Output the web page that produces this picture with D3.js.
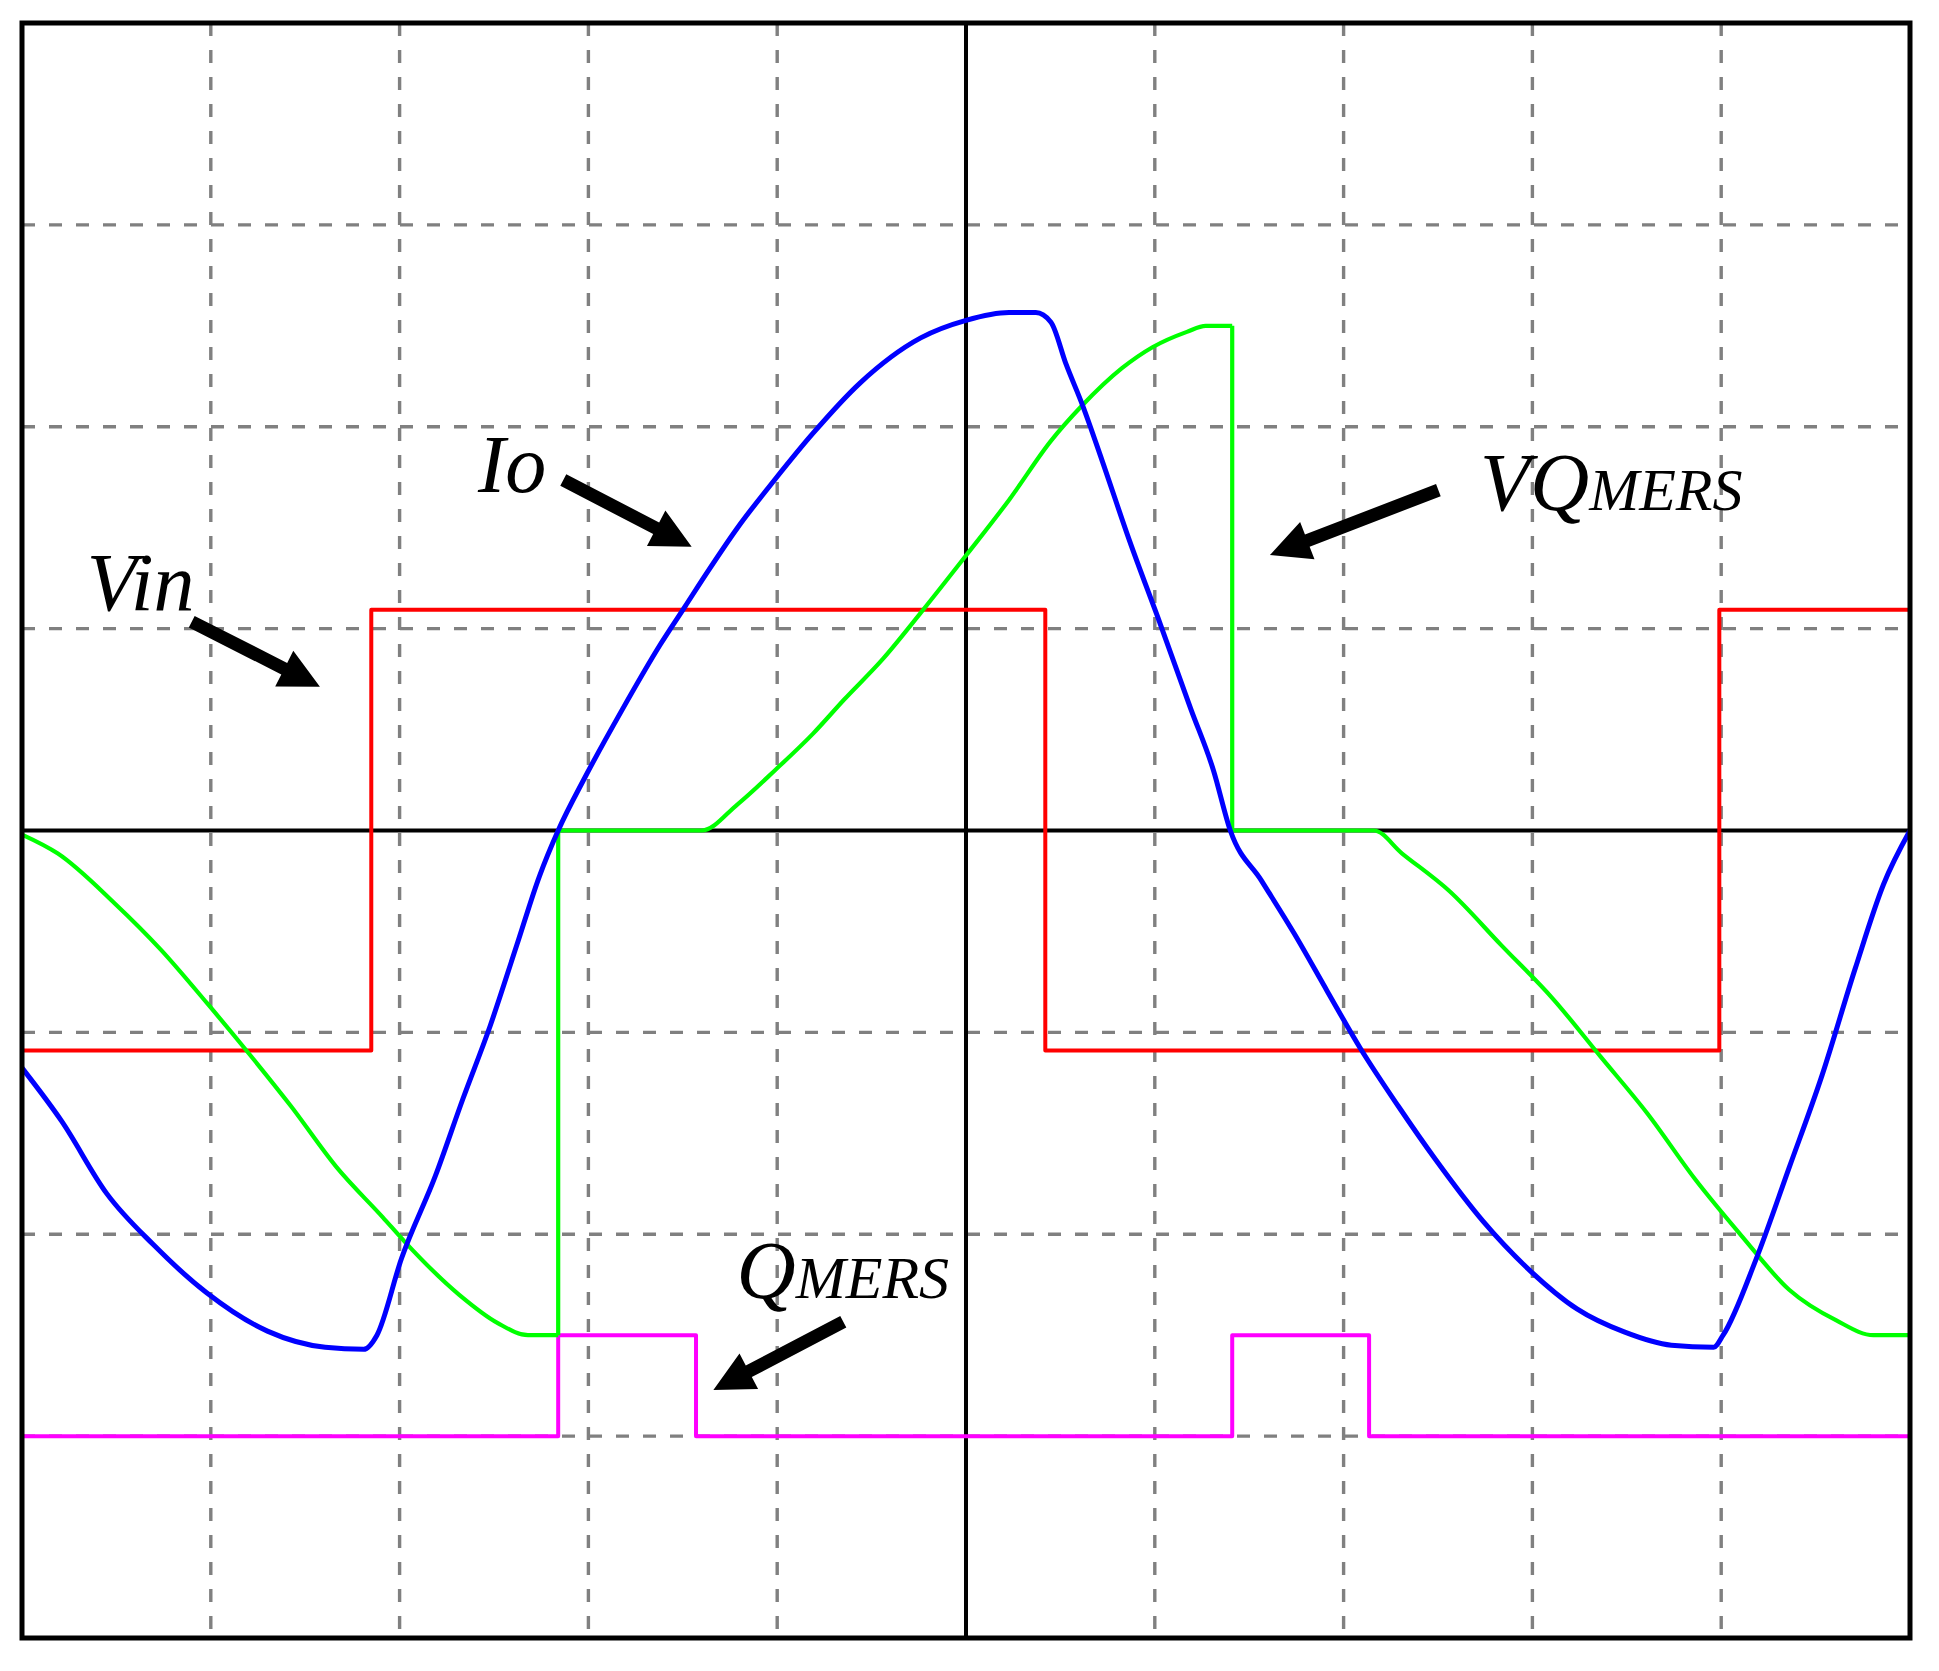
<!DOCTYPE html>
<html>
<head>
<meta charset="utf-8">
<script src="https://d3js.org/d3.v7.min.js"></script>
<style>
  body { margin: 0; background: #fff; }
</style>
</head>
<body>
<div id="chart"></div>
<script>
// scope screen: 10 divisions across, 8 divisions high (centre = 0)
const xDivs = d3.range(0, 11);
const yDivs = d3.range(-4, 5);

// Vin - square wave
const vinPoints = [
  [0, -1.09], [1.85, -1.09], [1.85, 1.093], [5.42, 1.093], [5.42, -1.09],
  [8.99, -1.09], [8.99, 1.093], [10, 1.093]
];

// QMERS - gate pulses
const qPoints = [
  [0, -3], [2.84, -3], [2.84, -2.5], [3.57, -2.5], [3.57, -3], [6.41, -3],
  [6.41, -2.5], [7.135, -2.5], [7.135, -3], [10, -3]
];

// Io - output current
const ioPoints = [
  [0, -1.176], [0.21, -1.44], [0.45, -1.8], [0.694, -2.05], [0.978, -2.29], [1.3, -2.48],
  [1.606, -2.56], [1.81, -2.57], [1.88, -2.5], [2.01, -2.12], [2.19, -1.71], [2.335, -1.33],
  [2.48, -0.967], [2.62, -0.57], [2.74, -0.228], [2.84, 0], [2.98, 0.26], [3.18, 0.6],
  [3.38, 0.92], [3.51, 1.107], [3.63, 1.28], [3.79, 1.5], [3.99, 1.741], [4.19, 1.968],
  [4.437, 2.215], [4.76, 2.44], [5.0, 2.527], [5.228, 2.566], [5.37, 2.566], [5.45, 2.518],
  [5.53, 2.31], [5.62, 2.1], [5.72, 1.835], [5.865, 1.438], [6.03, 1.02], [6.19, 0.604],
  [6.31, 0.3], [6.4, 0], [6.564, -0.247], [6.74, -0.513], [6.914, -0.797], [7.09, -1.081],
  [7.29, -1.366], [7.487, -1.63], [7.737, -1.934], [7.987, -2.18], [8.236, -2.37],
  [8.486, -2.484], [8.736, -2.55], [8.96, -2.56], [9.01, -2.5], [9.185, -2.123],
  [9.36, -1.67], [9.534, -1.213], [9.71, -0.683], [9.86, -0.266], [10, 0]
];

// VQMERS - switch voltage
const vqPoints = [
  [0, -0.02], [0.19, -0.114], [0.49, -0.36], [0.735, -0.59], [0.978, -0.853], [1.18, -1.08],
  [1.424, -1.365], [1.667, -1.669], [1.91, -1.915], [2.03, -2.04], [2.316, -2.3],
  [2.52, -2.44], [2.68, -2.5], [2.84, -2.5], [2.84, 0], [3.6, 0], [3.79, 0.13], [3.99, 0.3],
  [4.19, 0.48], [4.356, 0.65], [4.56, 0.85], [4.76, 1.078], [5.0, 1.362], [5.23, 1.64],
  [5.45, 1.93], [5.61, 2.1], [5.826, 2.29], [5.99, 2.395], [6.17, 2.47], [6.27, 2.5],
  [6.41, 2.5], [6.41, 0], [7.16, 0], [7.31, -0.114], [7.56, -0.3], [7.836, -0.569],
  [8.11, -0.835], [8.36, -1.119], [8.61, -1.403], [8.86, -1.725], [9.11, -2.01],
  [9.36, -2.275], [9.61, -2.427], [9.806, -2.5], [10, -2.5]
];

// labels + arrows (in division units)
const labels = [
  { parts: [['Vin', 82]], x: 0.343, y: 1.092, tail: [0.899, 1.034], tip: [1.578, 0.712] },
  { parts: [['Io', 82]], x: 2.415, y: 1.678, tail: [2.867, 1.736], tip: [3.547, 1.406] },
  { parts: [['VQ', 82], ['MERS', 60]], x: 7.722, y: 1.587, tail: [7.502, 1.686], tip: [6.61, 1.365] },
  { parts: [['Q', 82], ['MERS', 60]], x: 3.785, y: -2.317, tail: [4.35, -2.433], tip: [3.662, -2.771] }
];

const width = 1939, height = 1671;

// pick an installed Times-like serif (compare against fallbacks)
function pickSerif() {
  const ctx = document.createElement('canvas').getContext('2d');
  const probe = 'VQMERS Vin Io wmli';
  const w = f => { ctx.font = 'italic 80px ' + f; return ctx.measureText(probe).width; };
  const mono = w('monospace'), sans = w('sans-serif');
  const names = ['Liberation Serif', 'Times New Roman', 'Tinos', 'DejaVu Serif', 'Noto Serif'];
  for (const n of names) {
    const a = w('"' + n + '", monospace'), b = w('"' + n + '", sans-serif');
    if (a !== mono && b !== sans) return '"' + n + '", serif';
  }
  return 'serif';
}
const serifFont = pickSerif();

const svg = d3.select('#chart')
  .append('svg')
    .attr('width', width)
    .attr('height', height)
    .style('background-color', '#fff');

const x = d3.scaleLinear().domain([0, 10]).range([22, 1910]);
const y = d3.scaleLinear().domain([-4, 4]).range([1638, 23]);

// dashed grid
svg.selectAll('line.vgrid')
  .data(xDivs.filter(d => d > 0 && d < 10 && d !== 5))
  .enter().append('line')
    .attr('x1', d => x(d)).attr('x2', d => x(d))
    .attr('y1', y(4)).attr('y2', y(-4))
    .attr('stroke', '#808080').attr('stroke-width', 3.4)
    .attr('stroke-dasharray', '13,14');

svg.selectAll('line.hgrid')
  .data(yDivs.filter(d => d > -4 && d < 4 && d !== 0))
  .enter().append('line')
    .attr('x1', x(0)).attr('x2', x(10))
    .attr('y1', d => y(d)).attr('y2', d => y(d))
    .attr('stroke', '#808080').attr('stroke-width', 3.4)
    .attr('stroke-dasharray', '13,14');

// centre cross
svg.append('line')
  .attr('x1', x(5)).attr('x2', x(5)).attr('y1', y(4)).attr('y2', y(-4))
  .attr('stroke', '#000').attr('stroke-width', 4);
svg.append('line')
  .attr('x1', x(0)).attr('x2', x(10)).attr('y1', y(0)).attr('y2', y(0))
  .attr('stroke', '#000').attr('stroke-width', 4);

// split a trace into runs with increasing x; jumps (same x) become straight connectors
function splitRuns(pts) {
  const runs = [[pts[0]]];
  for (let i = 1; i < pts.length; i++) {
    if (pts[i][0] === pts[i - 1][0]) runs.push([pts[i - 1], pts[i]], [pts[i]]);
    else runs[runs.length - 1].push(pts[i]);
  }
  return runs.filter(r => r.length > 1);
}

const stepLine = d3.line().x(d => x(d[0])).y(d => y(d[1]));
const smoothLine = d3.line().x(d => x(d[0])).y(d => y(d[1])).curve(d3.curveMonotoneX);
const smoothPath = pts => splitRuns(pts).map(r =>
  (r.length === 2 && r[0][0] === r[1][0]) ? stepLine(r) : smoothLine(r)).join('');

// traces
const traces = [
  { pts: vinPoints, color: '#ff0000', w: 4, gen: stepLine },
  { pts: qPoints, color: '#ff00ff', w: 4, gen: stepLine },
  { pts: vqPoints, color: '#00ff00', w: 4.2, gen: smoothPath },
  { pts: ioPoints, color: '#0000ff', w: 5, gen: smoothPath }
];

svg.selectAll('path.trace')
  .data(traces)
  .enter().append('path')
    .attr('class', 'trace')
    .attr('d', d => d.gen(d.pts))
    .attr('fill', 'none')
    .attr('stroke', d => d.color)
    .attr('stroke-width', d => d.w)
    .attr('stroke-linejoin', 'round');

// border
svg.append('rect')
  .attr('x', x(0)).attr('y', y(4))
  .attr('width', x(10) - x(0)).attr('height', y(-4) - y(4))
  .attr('fill', 'none').attr('stroke', '#000').attr('stroke-width', 5);

// arrow polygon from tail to tip
function arrow(t, p) {
  const x0 = x(t[0]), y0 = y(t[1]), x1 = x(p[0]), y1 = y(p[1]);
  const len = Math.hypot(x1 - x0, y1 - y0);
  const ux = (x1 - x0) / len, uy = (y1 - y0) / len;
  const nx = -uy, ny = ux;
  const sw = 6.5, hw = 20, hl = 40;
  const bx = x1 - ux * hl, by = y1 - uy * hl;
  return [
    [x0 + nx * sw, y0 + ny * sw], [bx + nx * sw, by + ny * sw], [bx + nx * hw, by + ny * hw],
    [x1, y1], [bx - nx * hw, by - ny * hw], [bx - nx * sw, by - ny * sw], [x0 - nx * sw, y0 - ny * sw]
  ].map(q => q.join(',')).join(' ');
}

svg.selectAll('polygon.arrow')
  .data(labels)
  .enter().append('polygon')
    .attr('points', d => arrow(d.tail, d.tip))
    .attr('fill', '#000');

const txt = svg.selectAll('text.lab')
  .data(labels)
  .enter().append('text')
    .attr('x', d => x(d.x))
    .attr('y', d => y(d.y))
    .style('font-family', serifFont)
    .style('font-style', 'italic')
    .attr('fill', '#000');

txt.selectAll('tspan')
  .data(d => d.parts)
  .enter().append('tspan')
    .attr('font-size', d => d[1])
    .text(d => d[0]);
</script>
</body>
</html>
